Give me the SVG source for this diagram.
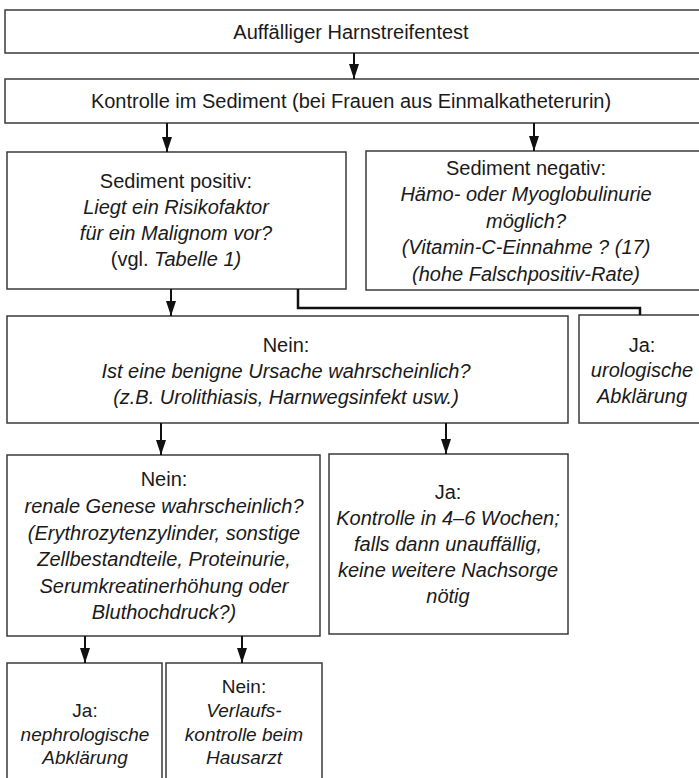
<svg xmlns="http://www.w3.org/2000/svg" width="699" height="778" viewBox="0 0 699 778">
<style>
.box{fill:#fff;stroke:#3a3a3a;stroke-width:1.5}
text{font-family:"Liberation Sans",Arial,sans-serif;font-size:20px;fill:#1a1a1a;text-anchor:middle}
.i{font-style:italic}
.sm{font-size:19px}
.con{stroke:#111;stroke-width:2;fill:none}
.el{stroke:#111;stroke-width:2.5;fill:none}
</style>
<defs>
<marker id="ah" viewBox="0 0 15 10" refX="15" refY="5" markerWidth="15" markerHeight="10" markerUnits="userSpaceOnUse" orient="auto">
<path d="M0,0 L15,5 L0,10 z" fill="#111"/>
</marker>
</defs>
<rect width="699" height="778" fill="#fff"/>
<g id="n1"><rect class="box" x="5" y="10" width="700" height="43"/><text x="351" y="39">Auffälliger Harnstreifentest</text></g>
<g id="n2"><rect class="box" x="5" y="79" width="700" height="44"/><text x="351" y="108">Kontrolle im Sediment (bei Frauen aus Einmalkatheterurin)</text></g>
<g id="n3"><rect class="box" x="7" y="152" width="339" height="137"/>
<text x="176" y="188">Sediment positiv:</text>
<text x="176" y="214" class="i">Liegt ein Risikofaktor</text>
<text x="176" y="240" class="i">für ein Malignom vor?</text>
<text x="176" y="266">(vgl. <tspan class="i">Tabelle 1)</tspan></text></g>
<g id="n4"><rect class="box" x="366" y="151" width="340" height="139"/>
<text x="526" y="175">Sediment negativ:</text>
<text x="526" y="201" class="i">Hämo- oder Myoglobulinurie</text>
<text x="526" y="228" class="i">möglich?</text>
<text x="526" y="254" class="i">(Vitamin-C-Einnahme ? (17)</text>
<text x="526" y="281" class="i">(hohe Falschpositiv-Rate)</text></g>
<g id="n5"><rect class="box" x="7" y="316" width="561" height="107"/>
<text x="286" y="352">Nein:</text>
<text x="286" y="378" class="i">Ist eine benigne Ursache wahrscheinlich?</text>
<text x="286" y="404" class="i">(z.B. Urolithiasis, Harnwegsinfekt usw.)</text></g>
<g id="n6"><rect class="box" x="579" y="315" width="130" height="108"/>
<text x="642" y="352">Ja:</text>
<text x="642" y="377" class="i">urologische</text>
<text x="642" y="403" class="i">Abklärung</text></g>
<g id="n7"><rect class="box" x="7" y="455" width="313" height="181"/>
<text x="164" y="486">Nein:</text>
<text x="164" y="513" class="i">renale Genese wahrscheinlich?</text>
<text x="164" y="540" class="i">(Erythrozytenzylinder, sonstige</text>
<text x="164" y="566" class="i">Zellbestandteile, Proteinurie,</text>
<text x="164" y="593" class="i">Serumkreatinerhöhung oder</text>
<text x="164" y="619" class="i">Bluthochdruck?)</text></g>
<g id="n8"><rect class="box" x="329" y="454" width="239" height="180"/>
<text x="448" y="499">Ja:</text>
<text x="448" y="525" class="i">Kontrolle in 4–6 Wochen;</text>
<text x="448" y="551" class="i">falls dann unauffällig,</text>
<text x="448" y="577" class="i">keine weitere Nachsorge</text>
<text x="448" y="603" class="i">nötig</text></g>
<g id="n9"><rect class="box" x="7" y="663" width="155" height="130"/>
<text x="85" y="717" class="sm">Ja:</text>
<text x="85" y="741" class="i sm">nephrologische</text>
<text x="85" y="764" class="i sm">Abklärung</text></g>
<g id="n10"><rect class="box" x="166" y="663" width="156" height="130"/>
<text x="244" y="693" class="sm">Nein:</text>
<text x="244" y="717" class="i sm">Verlaufs-</text>
<text x="244" y="741" class="i sm">kontrolle beim</text>
<text x="244" y="764" class="i sm">Hausarzt</text></g>
<g id="connectors">
<line class="con" x1="354" y1="53" x2="354" y2="79" marker-end="url(#ah)"/>
<line class="con" x1="167" y1="123" x2="167" y2="152" marker-end="url(#ah)"/>
<line class="con" x1="534" y1="123" x2="534" y2="151" marker-end="url(#ah)"/>
<line class="con" x1="171" y1="289" x2="171" y2="316" marker-end="url(#ah)"/>
<path class="el" d="M298,289 V308 H640 V315"/>
<line class="con" x1="161" y1="423" x2="161" y2="455" marker-end="url(#ah)"/>
<line class="con" x1="446" y1="423" x2="446" y2="454" marker-end="url(#ah)"/>
<line class="con" x1="85" y1="636" x2="85" y2="663" marker-end="url(#ah)"/>
<line class="con" x1="242" y1="636" x2="242" y2="663" marker-end="url(#ah)"/>
</g>
</svg>
